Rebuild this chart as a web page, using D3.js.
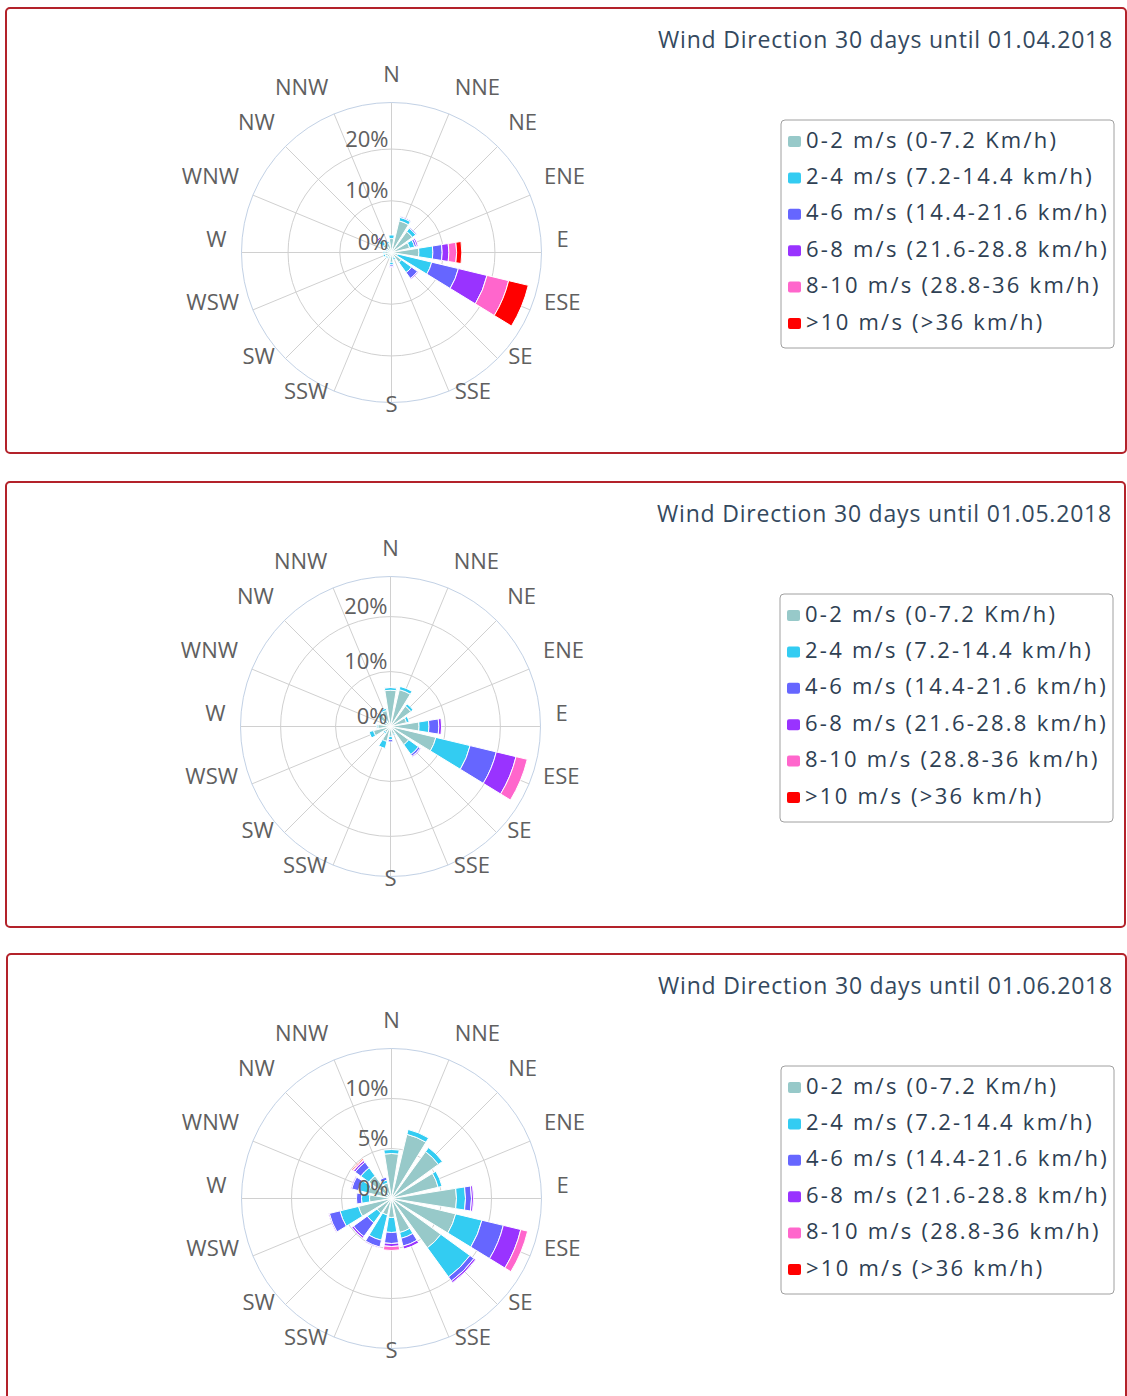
<!DOCTYPE html>
<html><head><meta charset="utf-8">
<script src="https://cdn.jsdelivr.net/npm/d3@7"></script>
<style>
body{margin:0;background:#fff}
svg{display:block}
text{font-family:'Open Sans',sans-serif}
</style>
</head><body>
<svg id="c" width="1127" height="1396"></svg>
<script>
// ---------- data ----------
const directions = ["N","NNE","NE","ENE","E","ESE","SE","SSE","S","SSW","SW","WSW","W","WNW","NW","NNW"];
const speedClasses = [
  "0-2 m/s (0-7.2 Km/h)",
  "2-4 m/s (7.2-14.4 km/h)",
  "4-6 m/s (14.4-21.6 km/h)",
  "6-8 m/s (21.6-28.8 km/h)",
  "8-10 m/s (28.8-36 km/h)",
  ">10 m/s (>36 km/h)"
];
const speedColors = ["#97c9c9","#33ccf2","#6666ff","#9933ff","#ff66cc","#ff0000"];
const chartTitles = [
  "Wind Direction 30 days until 01.04.2018",
  "Wind Direction 30 days until 01.05.2018",
  "Wind Direction 30 days until 01.06.2018"
];
// radial axis ticks (%) and axis maxima (%)
const ticksApril = [0, 10, 20];
const ticksMay   = [0, 10, 20];
const ticksJune  = [0, 5, 10];
const axisMax    = [29, 27.3, 15];

// frequency (%) per speed class (rows) for each direction N..NNW (columns)
const april2018 = [
  [2.7, 6.3, 5.0, 3.6, 5.3, 1.2, 2.4, 1.0, 1.9, 1.0, 1.1, 1.3, 1.3, 1.0, 2.0, 1.8],
  [0.7, 0.7, 0.8, 1.0, 2.7, 6.8, 2.4, 0.5, 0.5, 0.2, 0.3, 0.4, 0.3, 0.2, 1.0, 0.4],
  [0.0, 0.2, 0.2, 0.4, 1.8, 5.3, 1.4, 0.0, 0.3, 0.0, 0.0, 0.0, 0.0, 0.0, 0.4, 0.0],
  [0.0, 0.0, 0.0, 0.3, 1.3, 5.7, 0.2, 0.0, 0.2, 0.0, 0.0, 0.0, 0.0, 0.0, 0.3, 0.0],
  [0.0, 0.0, 0.0, 0.0, 1.5, 4.3, 0.0, 0.0, 0.0, 0.0, 0.0, 0.0, 0.0, 0.0, 0.0, 0.0],
  [0.0, 0.0, 0.0, 0.0, 1.0, 3.9, 0.0, 0.0, 0.0, 0.0, 0.0, 0.0, 0.0, 0.0, 0.0, 0.0]
];
const may2018 = [
  [6.6, 6.9, 4.6, 3.0, 5.2, 8.5, 4.1, 1.5, 1.8, 2.8, 1.3, 3.2, 2.3, 1.5, 2.5, 3.0],
  [0.5, 0.6, 0.5, 0.5, 1.8, 6.4, 2.2, 0.2, 0.6, 1.3, 0.3, 0.8, 0.2, 0.2, 0.5, 0.4],
  [0.1, 0.0, 0.0, 0.0, 1.8, 4.9, 0.4, 0.0, 0.4, 0.0, 0.0, 0.0, 0.0, 0.0, 0.0, 0.0],
  [0.0, 0.0, 0.0, 0.0, 0.5, 3.7, 0.2, 0.0, 0.0, 0.0, 0.0, 0.0, 0.0, 0.0, 0.0, 0.0],
  [0.0, 0.0, 0.0, 0.0, 0.0, 2.1, 0.0, 0.0, 0.0, 0.0, 0.0, 0.0, 0.0, 0.0, 0.0, 0.0],
  [0.0, 0.0, 0.0, 0.0, 0.0, 0.0, 0.0, 0.0, 0.0, 0.0, 0.0, 0.0, 0.0, 0.0, 0.0, 0.0]
];
const june2018 = [
  [4.5, 6.6, 5.8, 4.8, 6.5, 6.6, 6.1, 3.5, 1.9, 1.7, 1.8, 3.4, 2.2, 2.4, 2.8, 1.6],
  [0.4, 0.5, 0.5, 0.4, 0.9, 2.7, 3.6, 0.6, 1.5, 2.6, 1.2, 1.9, 0.8, 1.0, 1.0, 0.3],
  [0.0, 0.0, 0.0, 0.0, 0.6, 2.2, 0.5, 0.8, 1.1, 0.7, 1.7, 1.1, 0.5, 0.7, 0.7, 0.3],
  [0.0, 0.0, 0.0, 0.0, 0.2, 1.8, 0.2, 0.3, 0.3, 0.1, 0.2, 0.1, 0.0, 0.1, 0.2, 0.0],
  [0.0, 0.0, 0.0, 0.0, 0.0, 0.7, 0.0, 0.0, 0.4, 0.0, 0.0, 0.0, 0.0, 0.0, 0.1, 0.0],
  [0.0, 0.0, 0.0, 0.0, 0.0, 0.0, 0.0, 0.0, 0.0, 0.0, 0.0, 0.0, 0.0, 0.0, 0.1, 0.0]
];

const charts = [
  {title: chartTitles[0], data: april2018, ticks: ticksApril, max: axisMax[0]},
  {title: chartTitles[1], data: may2018,   ticks: ticksMay,   max: axisMax[1]},
  {title: chartTitles[2], data: june2018,  ticks: ticksJune,  max: axisMax[2]}
];

// ---------- layout ----------
const panels = [
  {x: 6, y: 8,   w: 1120, h: 445},
  {x: 6, y: 482, w: 1119, h: 445},
  {x: 7, y: 954, w: 1119, h: 470}
];
const R = 150;
const svg = d3.select("#c");

charts.forEach((ch, k) => {
  const p = panels[k];
  const g = svg.append("g");
  g.append("rect").attr("x", p.x).attr("y", p.y).attr("width", p.w).attr("height", p.h)
    .attr("rx", 4).attr("fill", "#fff").attr("stroke", "#b3222a").attr("stroke-width", 2);

  const right = p.x + p.w;
  const cx = right - 734.5, cy = p.y + 244.5;

  // title
  g.append("text").attr("x", right - 13).attr("y", p.y + 40)
    .attr("text-anchor", "end").attr("font-size", 23).attr("letter-spacing", 0.8)
    .attr("fill", "#34495e").text(ch.title);

  const rose = g.append("g").attr("transform", `translate(${cx},${cy})`);
  const y = d3.scaleLinear().domain([0, ch.max]).range([0, R]);
  const band = 2 * Math.PI / directions.length;
  const ang = i => i * band;

  // radial grid lines
  directions.forEach((d, i) => {
    const a = ang(i);
    rose.append("line").attr("x1", 0).attr("y1", 0)
      .attr("x2", R * Math.sin(a)).attr("y2", -R * Math.cos(a))
      .attr("stroke", "#d0d0d0").attr("stroke-width", 1);
  });
  // circular grid lines
  ch.ticks.filter(t => t > 0).forEach(t => {
    rose.append("circle").attr("r", y(t)).attr("fill", "none")
      .attr("stroke", "#d0d0d0").attr("stroke-width", 1);
  });
  rose.append("circle").attr("r", R).attr("fill", "none")
    .attr("stroke", "#c2d1e5").attr("stroke-width", 1);

  // stacked columns
  const arc = d3.arc();
  const stack = d3.stack().keys(d3.range(speedClasses.length))
    (directions.map((d, i) => {
      const o = {};
      ch.data.forEach((row, s) => o[s] = row[i]);
      return o;
    }));
  stack.forEach((layer, s) => {
    layer.forEach((seg, i) => {
      if (seg[1] - seg[0] <= 0) return;
      rose.append("path")
        .attr("d", arc({innerRadius: y(seg[0]), outerRadius: y(seg[1]),
          startAngle: ang(i) - band * 0.4, endAngle: ang(i) + band * 0.4}))
        .attr("fill", speedColors[s]).attr("stroke", "#fff").attr("stroke-width", 1);
    });
  });

  // direction labels
  directions.forEach((d, i) => {
    const a = ang(i), rr = R + 15;
    const sx = Math.sin(a);
    const anchor = Math.abs(sx) < 0.01 ? "middle" : (sx > 0 ? "start" : "end");
    rose.append("text")
      .attr("x", rr * sx).attr("y", -rr * Math.cos(a) - 5.5)
      .attr("text-anchor", anchor).attr("font-size", 22).attr("fill", "#606060")
      .text(d);
  });

  // radial axis labels
  ch.ticks.forEach(t => {
    rose.append("text").attr("x", -3).attr("y", -y(t) - 2.5)
      .attr("text-anchor", "end").attr("font-size", 22).attr("fill", "#606060")
      .text(t + "%");
  });

  // legend
  const lx = right - 345, ly = p.y + 112;
  const lg = g.append("g");
  lg.append("rect").attr("x", lx).attr("y", ly).attr("width", 333).attr("height", 228)
    .attr("rx", 4).attr("fill", "#fff").attr("stroke", "#a0a0a0").attr("stroke-width", 1);
  speedClasses.forEach((name, s) => {
    const yc = ly + 20 + s * 36.4;
    lg.append("rect").attr("x", lx + 7).attr("y", yc - 4).attr("width", 13).attr("height", 11)
      .attr("rx", 2).attr("fill", speedColors[s]);
    lg.append("text").attr("x", lx + 25).attr("y", yc + 7.5)
      .attr("font-size", 22).attr("letter-spacing", 2.25).attr("fill", "#2e4053")
      .text(name);
  });
});
</script>
</body></html>
